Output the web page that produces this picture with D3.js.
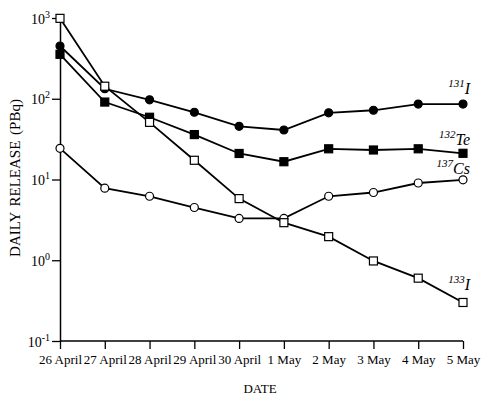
<!DOCTYPE html>
<html>
<head>
<meta charset="utf-8">
<script src="https://cdn.jsdelivr.net/npm/d3@7"></script>
<style>
  body { margin: 0; background: #fff; }
  svg { font-family: "Liberation Serif", "Times New Roman", serif; }
</style>
</head>
<body>
<div id="chart"><svg width="493" height="399"></svg></div>
<script>
// dates on the x axis
const dates = ["26 April", "27 April", "28 April", "29 April", "30 April",
               "1 May", "2 May", "3 May", "4 May", "5 May"];

// daily release, PBq
const i131  = [450, 133, 97, 68, 45.5, 41, 67, 72, 86, 86];
const te132 = [355, 91, 59, 36, 21, 16.6, 24, 23.2, 24, 21.1];
const cs137 = [24.3, 7.8, 6.2, 4.5, 3.3, 3.3, 6.2, 6.9, 9.05, 9.9];
const i133  = [990, 143, 51, 17.3, 5.8, 2.92, 1.96, 0.98, 0.6, 0.30];

const yTicks = [0.1, 1, 10, 100, 1000];
const yTickExp = ["-1", "0", "1", "2", "3"];

const svg = d3.select("#chart svg");
const margin = { left: 60, right: 30, top: 18, bottom: 58 };
const width = +svg.attr("width");
const height = +svg.attr("height");

const xScale = d3.scalePoint()
    .domain(dates)
    .range([margin.left, 463]);

const yScale = d3.scaleLog()
    .domain([0.1, 1000])
    .range([height - margin.bottom, margin.top]);

// series: name, values, marker shape, filled?, label parts and offsets
const series = [
    { sup: "131", main: "I",  values: i131,  shape: "circle", filled: true,  dy: -10 },
    { sup: "132", main: "Te", values: te132, shape: "square", filled: true,  dy: -8 },
    { sup: "137", main: "Cs", values: cs137, shape: "circle", filled: false, dy: -6 },
    { sup: "133", main: "I",  values: i133,  shape: "square", filled: false, dy: -12 }
];

// axes
const xAxis = d3.axisBottom(xScale).tickSize(8).tickSizeOuter(0).tickPadding(6);
svg.append("g")
    .attr("class", "x-axis")
    .attr("transform", `translate(0,${height - margin.bottom})`)
    .call(xAxis)
    .call(g => g.select(".domain").attr("stroke-width", 1.5).attr("d", `M${margin.left},0H${xScale("5 May")}`))
    .call(g => g.selectAll(".tick line").attr("stroke-width", 1.3))
    .selectAll("text")
    .attr("fill", "#000")
    .style("font-size", "13px")
    .style("font-family", "Liberation Serif, serif");

const yAxis = d3.axisLeft(yScale).tickValues(yTicks).tickSize(8).tickSizeOuter(0).tickFormat("");
const yg = svg.append("g")
    .attr("class", "y-axis")
    .attr("transform", `translate(${margin.left},0)`)
    .call(yAxis);
yg.select(".domain").attr("stroke-width", 1.5);
yg.selectAll(".tick line").attr("stroke-width", 1.3);

// power-of-ten tick labels
yg.selectAll(".tick").each(function (d, i) {
    const t = d3.select(this).append("text")
        .attr("x", -10)
        .attr("y", 5)
        .attr("text-anchor", "end")
        .attr("fill", "#000")
        .style("font-family", "Liberation Serif, serif")
        .style("font-size", "14px");
    t.append("tspan").text("10");
    t.append("tspan").attr("dy", -6).style("font-size", "10px").text(yTickExp[i]);
});

// axis titles
svg.append("text")
    .attr("transform", "translate(20,178) rotate(-90)")
    .attr("text-anchor", "middle")
    .style("font-size", "15px")
    .style("word-spacing", "2px")
    .text("DAILY RELEASE (PBq)");

svg.append("text")
    .attr("x", 260)
    .attr("y", 393)
    .attr("text-anchor", "middle")
    .style("font-size", "13px")
    .text("DATE");

// lines
const line = d3.line()
    .x((d, i) => xScale(dates[i]))
    .y(d => yScale(d));

series.forEach(s => {
    svg.append("path")
        .datum(s.values)
        .attr("fill", "none")
        .attr("stroke", "#000")
        .attr("stroke-width", 1.8)
        .attr("d", line);
});

// markers
series.forEach(s => {
    const g = svg.append("g");
    const fill = s.filled ? "#000" : "#fff";
    if (s.shape === "circle") {
        g.selectAll("circle")
            .data(s.values)
            .enter()
            .append("circle")
            .attr("cx", (d, i) => xScale(dates[i]))
            .attr("cy", d => yScale(d))
            .attr("r", 4)
            .attr("fill", fill)
            .attr("stroke", "#000")
            .attr("stroke-width", 1.2);
    } else {
        const sz = 8;
        g.selectAll("rect")
            .data(s.values)
            .enter()
            .append("rect")
            .attr("x", (d, i) => xScale(dates[i]) - sz / 2)
            .attr("y", d => yScale(d) - sz / 2)
            .attr("width", sz)
            .attr("height", sz)
            .attr("fill", fill)
            .attr("stroke", "#000")
            .attr("stroke-width", 1.2);
    }
});

// isotope labels at the end of each line
series.forEach(s => {
    const last = s.values[s.values.length - 1];
    const t = svg.append("text")
        .attr("x", xScale(dates[dates.length - 1]) + 7)
        .attr("y", yScale(last) + s.dy)
        .attr("text-anchor", "end")
        .style("font-style", "italic");
    t.append("tspan").attr("dy", -7).style("font-size", "11px").text(s.sup);
    t.append("tspan").attr("dy", 7).style("font-size", "16px").text(s.main);
});
</script>
</body>
</html>
